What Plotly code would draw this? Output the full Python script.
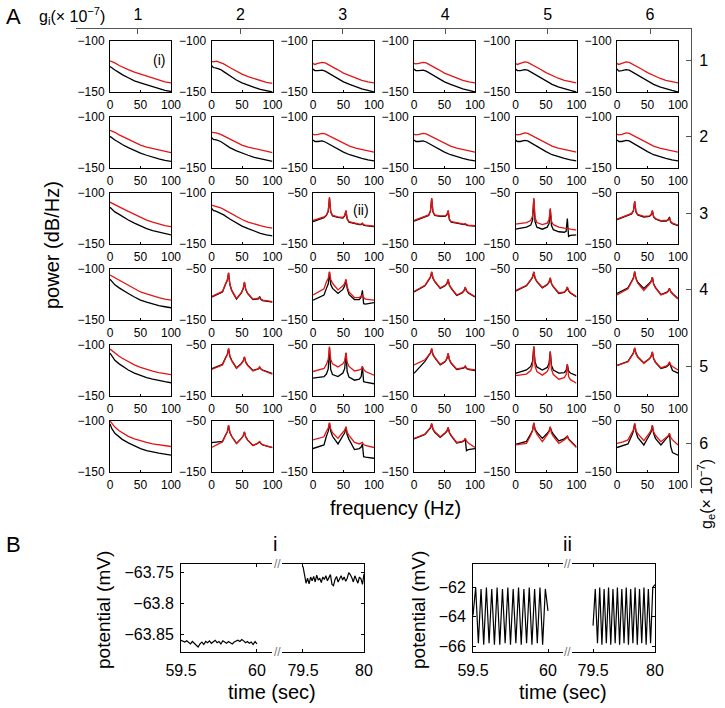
import numpy as np
import plotly.graph_objects as go

W, H = 725, 708
FONT = "Liberation Sans, Arial, sans-serif"
RED = "rgb(228,20,20)"

# ---- panel A data: power spectra (dB/Hz) ----
F_SMOOTH = [0, 3, 8, 15, 20, 30, 40, 50, 60, 70, 80, 90, 100]
F_OSC_C2 = [0, 10, 18, 23, 26, 28, 30, 33, 41, 49, 52, 54, 56, 59, 68, 74, 77, 79, 81, 84, 100]
F_OSC_C3 = [0, 10, 18, 22, 25, 27, 29, 32, 41, 49, 52, 54, 56, 59, 68, 76, 79, 81, 83, 86, 100]
F_OSC_C4 = [0, 10, 18, 24, 27, 29, 31, 34, 43, 51, 54, 56, 58, 61, 70, 79, 82, 84, 86, 89, 100]
F_OSC_C5 = [0, 10, 18, 25, 28, 30, 32, 35, 44, 52, 55, 57, 59, 62, 71, 80, 83, 85, 87, 90, 100]
F_OSC_C6 = [0, 10, 18, 24, 27, 29, 31, 34, 44, 53, 56, 58, 60, 63, 72, 81, 84, 86, 88, 91, 100]
F_OSC = [None, F_OSC_C2, F_OSC_C3, F_OSC_C4, F_OSC_C5, F_OSC_C6]

ROW1_RED = [
    [-119.5, -120, -121.5, -124, -125.5, -128, -130.5, -132.5, -134.5, -136.5, -138.5, -140, -141],
    [-120, -120.5, -119.8, -121, -122.5, -126, -129.5, -132.5, -135, -137, -139, -140.5, -141.5],
    [-122, -123, -122, -121, -121.5, -124.5, -128, -131.5, -134, -136.5, -138.5, -140, -141],
    [-122, -122.5, -122, -121, -121.5, -124.5, -128, -131.5, -134, -136.5, -138.5, -140, -141],
    [-122, -123, -122, -120.5, -121, -124, -127.5, -131, -134, -136.5, -138.5, -140, -141],
    [-122, -123, -122, -120.5, -121, -124, -127.5, -131, -134, -136.5, -138.5, -140, -141],
]
ROW1_BLACK = [
    [-125, -126, -128.5, -131, -133, -136, -139, -141, -143, -145, -147, -148.5, -149.5],
    [-124, -126, -126.5, -128, -130, -134, -138, -141, -143.5, -145.5, -147.5, -149, -150],
    [-127.5, -129, -129, -128.5, -129.5, -133, -136.5, -140, -142.5, -145, -147, -148.5, -150],
    [-127.5, -129, -129, -128.5, -129.5, -133, -136.5, -140, -142.5, -145, -147, -148.5, -150],
    [-127.5, -129, -129, -128, -128.5, -132, -136, -139.5, -142.5, -145, -147, -148.5, -150],
    [-127.5, -129.5, -129, -128, -128.5, -132, -136, -139.5, -142.5, -145, -147, -148.5, -150],
]
ROW2_RED = [
    [-113, -113.5, -115, -117.5, -119, -122, -125, -127.5, -129.5, -131, -132.5, -134, -135],
    [-115, -115, -115.5, -117, -118.5, -122, -125, -127.5, -129.5, -131, -132.5, -134, -135],
    [-117, -117.5, -117, -116, -116.5, -119.5, -123, -126, -128.5, -130.5, -132, -133.5, -134.5],
    [-117, -117.5, -117, -116, -116.5, -119.5, -123, -126, -128.5, -130.5, -132, -133.5, -134.5],
    [-117, -117.5, -117, -115.5, -116, -119, -122.5, -125.5, -128.5, -130.5, -132, -133.5, -134.5],
    [-117, -117.5, -117, -115.5, -116, -119, -122.5, -125.5, -128.5, -130.5, -132, -133.5, -134.5],
]
ROW2_BLACK = [
    [-119, -120.5, -122.5, -125, -127, -130, -133, -135.5, -137.5, -139.5, -141, -142.5, -143.5],
    [-120, -122, -122.5, -124, -126, -130, -133, -135.5, -137.5, -139.5, -141, -142.5, -143.5],
    [-122.5, -124, -124, -123.5, -124.5, -128, -131.5, -134.5, -137, -139, -140.5, -142, -143],
    [-122.5, -124, -124, -123.5, -124.5, -128, -131.5, -134.5, -137, -139, -140.5, -142, -143],
    [-122.5, -124, -124, -123, -123.5, -127, -131, -134, -137, -139, -140.5, -142, -143],
    [-122.5, -124, -124, -123, -123.5, -127, -131, -134, -137, -139, -140.5, -142, -143],
]
ROW3_RED = [
    [-109, -110, -111.5, -113.5, -115, -118, -121, -124, -126.5, -128.5, -130.5, -132, -133],
    [-112, -112.5, -113, -114.5, -116, -119.5, -123, -126, -128.5, -130.5, -132, -133.5, -134.5],
    [-104, -100, -97, -93, -85, -58, -86, -94, -97, -98, -94, -84, -100, -106, -109, -111, -111, -109, -112, -113, -115],
    [-104, -100, -96, -93, -85, -60, -86, -93, -95, -95, -92, -84, -101, -106, -108, -111, -111, -110, -112, -113, -114],
    [-111, -110, -108, -104, -95, -60, -98, -108, -112, -109, -102, -80, -106, -112, -117, -119, -119, -119, -120, -121, -123],
    [-101.5, -97, -93, -90, -84, -66, -86, -92, -96, -95, -92, -84, -96, -100, -104, -104, -103, -100, -106, -109, -113],
]
ROW3_BLACK = [
    [-114, -116, -118.5, -121, -123, -126.5, -129.5, -132.5, -135, -137, -138.5, -140, -141],
    [-115, -117, -118, -120, -121.5, -125.5, -129, -132.5, -135, -137.5, -139.5, -141, -142],
    [-106, -102, -98.5, -94, -86, -60, -87, -95, -98, -99, -95, -85, -101, -107, -110, -112, -112, -110, -113, -114, -116],
    [-105, -101, -97, -94, -86, -61, -87, -94, -96, -96, -93, -85, -102, -107, -109, -112, -112, -111, -113, -114, -115],
    [-121, -119, -117, -113, -103, -62, -106, -117, -121, -117, -110, -82, -114, -122, -126, -127, -125, -100, -135, -133, -132],
    [-102, -98, -94, -91, -85, -67, -87, -93, -97, -96, -93, -85, -97, -101, -105, -105, -102, -97, -107, -110, -114],
]
ROW4_RED = [
    [-106, -107, -109, -111.5, -113, -116.5, -119.5, -122.5, -124.5, -126.5, -128, -129.5, -130.5],
    [-104, -99, -94, -79, -71, -57, -79, -91, -108, -96, -88, -75, -89, -97, -109, -108, -107.5, -106, -109, -111, -114],
    [-101, -94, -89, -75, -68, -55, -70, -78, -91, -83, -78, -70, -84, -95, -106, -106, -104, -101, -106, -109, -111],
    [-94, -87, -82, -71, -65, -55, -67, -74, -87, -82, -78, -70, -81, -87, -101, -96, -92, -85, -92, -96, -104],
    [-92.5, -87, -82, -71, -65, -55, -67, -74, -86, -80, -75, -67, -78, -84, -97, -95, -91, -85, -92, -96, -104],
    [-101, -94, -89, -75, -68, -55, -69, -78, -92, -80, -75, -66, -80, -87, -101, -97, -94, -88, -95, -99, -109],
]
ROW4_BLACK = [
    [-110, -112.5, -115.5, -118.5, -120.5, -124, -127.5, -130.5, -132.5, -134.5, -136, -137, -138],
    [-105, -100, -95, -80, -72, -58, -80, -92, -109, -97, -89, -76, -90, -98, -110, -109, -108.5, -104, -110, -112, -115],
    [-111, -106, -101, -88, -79, -56, -80, -88, -98, -90, -83, -72, -88, -100, -110, -110, -105, -92, -118, -119, -116],
    [-95, -88, -83, -72, -66, -56, -68, -75, -88, -83, -79, -71, -82, -88, -102, -97, -93, -86, -93, -97, -105],
    [-93.5, -88, -83, -72, -66, -56, -68, -75, -87, -81, -76, -68, -79, -85, -98, -96, -92, -86, -93, -97, -105],
    [-98, -92, -87, -74, -67, -55, -68, -76, -88, -78, -74, -66, -79, -86, -100, -96, -93, -88, -94, -98, -108],
]
ROW5_RED = [
    [-104, -105.5, -108, -111, -113, -116.5, -119.5, -122, -124, -125.5, -127, -128, -129],
    [-98, -93, -89, -76, -69, -56.5, -72, -81, -96, -87, -82, -73, -84, -90, -101, -98, -96, -92.5, -97, -100, -107],
    [-102, -99, -96, -88, -78, -53, -78, -87, -93, -87, -81, -65, -84, -92, -101, -99, -97, -92, -98, -102, -109],
    [-89, -83, -79, -70, -65, -56.5, -68, -74, -88, -82, -76, -66, -78, -85, -97, -95, -94, -91, -95, -97, -99],
    [-110, -108, -107, -100, -90, -53, -91, -102, -109, -102, -94, -63, -98, -108, -117, -114, -108, -88, -112, -118, -125],
    [-90.5, -87, -83, -72, -66, -55, -67, -74, -86, -77, -72, -63, -76, -83, -95, -91, -88, -83, -89, -92, -99],
]
ROW5_BLACK = [
    [-108, -111, -115, -118.5, -120.5, -124.5, -127.5, -130, -132, -133.5, -135, -136, -137],
    [-97, -92, -88, -75, -68, -57, -71, -80, -95, -86, -81, -74, -83, -89, -100, -98, -97, -94, -97, -99, -106],
    [-115, -113, -112, -107, -97, -55, -98, -108, -112, -105, -96, -66, -102, -113, -119, -117, -112, -92, -122, -123, -126],
    [-105.6, -92, -82, -71, -66, -57.5, -69, -75, -89, -83, -77, -67, -79, -86, -98, -96, -95, -92, -96, -98, -100],
    [-105.6, -102, -99, -92, -82, -53, -83, -93, -99, -94, -86, -63, -90, -99, -105, -104, -100, -88, -101, -105, -110],
    [-90, -86, -82, -71, -65, -56, -66, -73, -85, -77, -72, -64, -77, -84, -96, -93, -90, -85, -92, -100, -105],
]
ROW6_RED = [
    [-100, -102.5, -106, -109.5, -111.5, -115, -117.5, -119.5, -121, -122.5, -123.5, -124.5, -125],
    [-102, -96, -91, -78, -71, -58, -72, -80, -94, -84, -79, -71, -81, -87, -98, -95, -93, -90, -94, -97, -102],
    [-87, -84, -81, -70, -64, -53, -65, -73, -84, -72, -68, -61, -72, -78, -92, -95, -94, -92, -96, -98, -102],
    [-84, -79, -75.5, -67, -62.5, -54.6, -65, -71, -81, -73, -69, -62, -72, -78, -92, -90, -88, -84, -89, -93, -102],
    [-97, -96, -94, -78, -69, -53, -68, -76, -90.5, -77, -71, -61, -74, -80, -94, -87, -84, -79, -86, -90, -102],
    [-94, -91, -87, -74, -67, -54.6, -68, -75, -88.6, -74, -68, -58, -71, -78, -90.5, -82, -79, -74, -82, -87, -97],
]
ROW6_BLACK = [
    [-103, -107.5, -112, -116, -118, -121.5, -124.5, -127, -129, -130.5, -131.5, -132.5, -133.5],
    [-92.5, -91, -90, -78, -71, -59, -72, -80, -94, -84, -79, -72, -81, -87, -98, -95, -93, -91, -94, -97, -102],
    [-104, -100, -97, -80, -70, -54, -70, -80, -95, -79, -73, -62, -77, -86, -106, -104, -101, -95, -120, -121, -123],
    [-85, -80, -76.5, -68, -63.5, -55.5, -66, -72, -82, -74, -70, -63, -73, -79, -93, -91, -89, -85, -108, -106, -104],
    [-96, -93, -90, -75, -68, -54, -66, -72, -84, -74, -70, -62, -70, -76, -89, -85, -83, -80, -85, -89, -101],
    [-102, -98, -95, -79, -70, -55, -71, -82, -97, -78, -71, -59, -74, -84, -97, -84, -80, -75, -100, -112, -117],
]
RED_ROWS = [ROW1_RED, ROW2_RED, ROW3_RED, ROW4_RED, ROW5_RED, ROW6_RED]
BLACK_ROWS = [ROW1_BLACK, ROW2_BLACK, ROW3_BLACK, ROW4_BLACK, ROW5_BLACK, ROW6_BLACK]
G_LABELS = ["1", "2", "3", "4", "5", "6"]

# ---- panel B data: membrane potential (mV) ----
BI_EARLY = [-63.860, -63.861, -63.863, -63.861, -63.864, -63.866, -63.862, -63.865, -63.868, -63.871,
            -63.866, -63.863, -63.867, -63.862, -63.864, -63.861, -63.865, -63.863, -63.860, -63.864,
            -63.862, -63.866, -63.861, -63.863, -63.865, -63.862, -63.864, -63.866, -63.863, -63.861,
            -63.860, -63.862, -63.859, -63.861, -63.864, -63.862, -63.865, -63.863, -63.867, -63.862, -63.866]
BI_LATE = [-63.741, -63.752, -63.768, -63.760, -63.769, -63.758, -63.764, -63.757, -63.766, -63.755,
           -63.763, -63.760, -63.767, -63.758, -63.762, -63.756, -63.764, -63.759, -63.754, -63.770,
           -63.772, -63.762, -63.757, -63.766, -63.760, -63.756, -63.763, -63.758, -63.765, -63.760,
           -63.751, -63.754, -63.759, -63.766, -63.756, -63.762, -63.768, -63.758, -63.761, -63.770, -63.753]
BII_EARLY = [-63.9, -62.0, -65.8, -62.1, -65.9, -62.0, -65.8, -62.1, -65.9, -62.0, -65.9, -62.1, -65.8, -62.0,
             -65.9, -62.1, -65.8, -62.0, -65.9, -62.1, -65.8, -62.0, -65.9, -62.1, -65.8, -62.0, -65.9, -62.1, -63.6]
BII_LATE = [-64.6, -62.1, -65.8, -62.0, -65.9, -62.1, -65.8, -62.0, -65.9, -62.1, -65.8, -62.0, -65.9, -62.1,
            -65.8, -62.0, -65.9, -62.1, -65.8, -62.0, -65.9, -62.1, -65.8, -62.0, -65.9, -62.1, -65.8, -62.0, -61.8]

COL_LEFT = [110, 211.5, 313, 414, 515.5, 617]
ROW_TOP = [41, 117, 193, 269, 345, 421]
PW, PH = 61, 51


def xdom(a, b):
    return [a / W, b / W]


def ydom(a, b):
    return [1 - b / H, 1 - a / H]


fig = go.Figure()
lay = {}
annotations = []


def ann(text, x, y, size, angle=0, color="black"):
    annotations.append(dict(text=text, x=x / W, y=1 - y / H, xref="paper", yref="paper",
                            showarrow=False, textangle=angle, xanchor="center", yanchor="middle",
                            font=dict(family=FONT, size=size, color=color)))


def axis_common(size):
    return dict(showgrid=False, zeroline=False, showline=True, linecolor="black", linewidth=1,
                ticks="inside", ticklen=2, tickcolor="black", automargin=False,
                tickfont=dict(family=FONT, size=size, color="black"))


n = 0
for r in range(6):
    for c in range(6):
        n += 1
        sfx = "" if n == 1 else str(n)
        red = RED_ROWS[r][c]
        blk = BLACK_ROWS[r][c]
        freq = F_SMOOTH if len(red) == len(F_SMOOTH) else F_OSC[c]
        top = -100 if freq is F_SMOOTH else -50
        for vals, col in ((blk, "black"), (red, RED)):
            fig.add_trace(go.Scatter(x=freq, y=vals, mode="lines", line=dict(color=col, width=1.3),
                                     xaxis="x" + sfx, yaxis="y" + sfx, showlegend=False, hoverinfo="skip"))
        x0, y0 = COL_LEFT[c], ROW_TOP[r]
        lay["xaxis" + sfx] = dict(axis_common(12), domain=xdom(x0, x0 + PW), anchor="y" + sfx,
                                  range=[0, 100], tickvals=[0, 50, 100], mirror=True,
                                  ticklabelstandoff=2)
        lay["yaxis" + sfx] = dict(axis_common(12), domain=ydom(y0, y0 + PH), anchor="x" + sfx,
                                  range=[-150, top], tickvals=[-150, top], mirror=True,
                                  ticklabelstandoff=2)


# ---- panel B axes ----
def b_panel(idx, early, late, yrange, yticks, yticktext, dl, dr, rl, rr):
    a, b = str(idx), str(idx + 1)
    t_early = np.linspace(59.5, 60.0, len(early))
    t_late = np.linspace(79.5, 80.0, len(late))
    fig.add_trace(go.Scatter(x=t_early, y=early, mode="lines", line=dict(color="black", width=1.2),
                             xaxis="x" + a, yaxis="y" + a, showlegend=False, hoverinfo="skip"))
    fig.add_trace(go.Scatter(x=t_late, y=late, mode="lines", line=dict(color="black", width=1.2),
                             xaxis="x" + b, yaxis="y" + b, showlegend=False, hoverinfo="skip"))
    yd = ydom(564, 652)
    lay["xaxis" + a] = dict(axis_common(16), domain=xdom(*dl), anchor="y" + a, range=rl,
                            tickvals=[59.5, 60], ticktext=["59.5", "60"], mirror="ticks",
                            ticklen=3, ticklabelstandoff=4)
    lay["yaxis" + a] = dict(axis_common(16), domain=yd, anchor="x" + a, range=yrange,
                            tickvals=yticks, ticktext=yticktext, ticklen=3, ticklabelstandoff=3)
    lay["xaxis" + b] = dict(axis_common(16), domain=xdom(*dr), anchor="y" + b, range=rr,
                            tickvals=[79.5, 80], ticktext=["79.5", "80"], mirror="ticks",
                            ticklen=3, ticklabelstandoff=4)
    lay["yaxis" + b] = dict(axis_common(16), domain=yd, anchor="x" + b, range=yrange, side="right",
                            tickvals=yticks, showticklabels=False, ticklen=3)


b_panel(37, BI_EARLY, BI_LATE, [-63.879, -63.737], [-63.85, -63.8, -63.75],
        ["\u221263.85", "\u221263.8", "\u221263.75"], (181, 272), (282, 364), [59.5, 60.099], [79.328, 80])
b_panel(39, BII_EARLY, BII_LATE, [-66.4, -60.4], [-66, -64, -62],
        ["\u221266", "\u221264", "\u221262"], (473, 563), (572, 655), [59.5, 60.1], [79.33, 80])

# ---- g_i / g_e frame axes ----
fig.add_trace(go.Scatter(x=[None], y=[None], xaxis="x41", yaxis="y41", showlegend=False, hoverinfo="skip"))
frame = dict(showgrid=False, zeroline=False, showline=True, linecolor="#555", linewidth=1.2,
             ticks="inside", ticklen=5, tickcolor="#555", automargin=False,
             tickfont=dict(family=FONT, size=16, color="black"))
lay["xaxis41"] = dict(frame, domain=xdom(76, 691), anchor="y41", side="top", range=[0.395, 6.40],
                      tickvals=[1, 2, 3, 4, 5, 6], ticktext=G_LABELS, ticklabelstandoff=2)
lay["yaxis41"] = dict(frame, domain=ydom(29, 488), anchor="x41", side="right", range=[6.587, 0.595],
                      tickvals=[1, 2, 3, 4, 5, 6], ticktext=G_LABELS, ticklabelstandoff=4)

# ---- text ----
ann("A", 13, 17, 22)
ann("B", 13, 544, 22)
ann("g<sub>i</sub>(\u00d7 10<sup>\u22127</sup>)", 72, 16, 16)
ann("g<sub>e</sub>(\u00d7 10<sup>\u22127</sup>)", 706, 494, 16, angle=-90)
ann("power (dB/Hz)", 52, 245, 20, angle=-90)
ann("frequency (Hz)", 395, 508, 20)
ann("(i)", 159, 60, 14)
ann("(ii)", 361, 210, 14)
ann("i", 275, 544, 20)
ann("ii", 567, 544, 20)
ann("potential (mV)", 103, 610, 19, angle=-90)
ann("potential (mV)", 418, 610, 19, angle=-90)
ann("time (sec)", 272, 692, 20)
ann("time (sec)", 563, 692, 20)
for xb in (277, 567.5):
    ann("//", xb, 564, 12, color="#777")
    ann("//", xb, 652, 12, color="#777")

fig.update_layout(width=W, height=H, margin=dict(l=0, r=0, t=0, b=0, autoexpand=False), autosize=False,
                  paper_bgcolor="white", plot_bgcolor="rgba(0,0,0,0)", showlegend=False,
                  annotations=annotations, font=dict(family=FONT), **lay)
fig.write_html("out.html", config={"displayModeBar": False},
               post_script="document.body.style.margin='0px';document.body.style.padding='0px';")
